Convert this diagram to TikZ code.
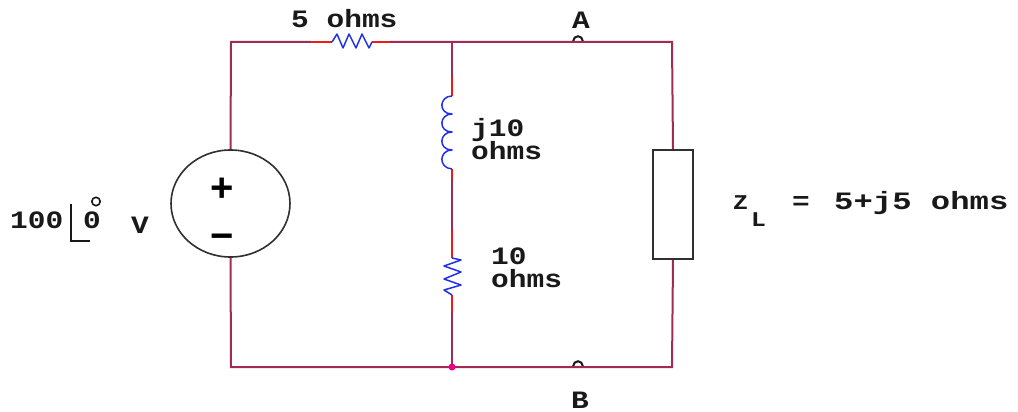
\documentclass[tikz,border=0pt]{standalone}
\usepackage{fontspec}
\usetikzlibrary{shapes.geometric}
\newfontfamily\cktfont[FakeStretch=1.18]{Liberation Mono Bold}
\newfontfamily\cktwide[FakeStretch=1.29]{Liberation Mono Bold}
\newfontfamily\signfont{Liberation Sans Bold}
\definecolor{wirecol}{HTML}{A32A55}
\definecolor{redcol}{HTML}{F01818}
\definecolor{compcol}{HTML}{2030E8}
\definecolor{darkcol}{HTML}{303030}
\tikzset{
  wire/.style={draw=wirecol,line width=2pt},
  lead/.style={draw=redcol,line width=2pt},
  comp/.style={draw=compcol,line width=1.5pt,line join=round},
  body/.style={draw=darkcol,line width=1.6pt,fill=white,inner sep=0pt},
  lbl/.style={anchor=base west,inner sep=0pt,font=\cktfont\fontsize{25}{25}\selectfont,text=black!90},
  widelbl/.style={lbl,font=\cktwide\fontsize{25}{25}\selectfont},
  small/.style={lbl,font=\cktfont\fontsize{21}{21}\selectfont},
  sign/.style={inner sep=0pt,text=black,font=\signfont\fontsize{40}{40}\selectfont},
  term/.style={circle,draw=black!90,line width=2pt,fill=white,minimum size=9.5pt,inner sep=0pt}
}
\begin{document}
\begin{tikzpicture}[x=1pt,y=-1pt]
\useasboundingbox (0,0) rectangle (1018,412);
% corners and junctions
\coordinate (tl) at (231,42);
\coordinate (tm) at (452,42);
\coordinate (tr) at (672,42);
\coordinate (bl) at (231,367);
\coordinate (bm) at (452,367);
\coordinate (br) at (672,367);
\coordinate (rA) at (332,42);
\coordinate (rB) at (372,42);
\coordinate (lA) at (452,96);
\coordinate (lB) at (452,169);
\coordinate (zA) at (452,258);
\coordinate (zB) at (452,295);
\coordinate (ra) at (311,42);
\coordinate (rb) at (390,42);
\coordinate (la) at (452,77);
\coordinate (lb) at (452,230);
\coordinate (zb) at (452,312);
% terminals: only the half above the wire shows
\begin{scope}
\clip (560,20) rectangle (600,42);
\node[term] (ta) at (578,41) {};
\end{scope}
\begin{scope}
\clip (560,345) rectangle (600,367);
\node[term] (tb) at (578,366) {};
\end{scope}
% source and load
\node[ellipse,body,minimum width=119pt,minimum height=107pt] (src) at (230.5,203.5) {};
\node[rectangle,body,minimum width=40pt,minimum height=109pt] (load) at (673,204.5) {};
% wires
\draw[wire] (src.north) -- (tl) -- (ra);
\draw[wire] (rb) -- (tr) -- (load.north);
\draw[wire] (src.south) -- (bl) -- (br) -- (load.south);
\draw[wire] (tm) -- (la);
\draw[wire] (zb) -- (bm);
\draw[wire] (lb) -- (lB);
% red leads
\draw[lead] (ra) -- (rA);
\draw[lead] (rB) -- (rb);
\draw[lead] (la) -- (lA);
\draw[lead] (lB) -- (452,179);
\draw[lead] (lb) -- (zA);
\draw[lead] (zB) -- (zb);
% series resistor
\draw[comp] (rA) -- ++(5,-8) -- ++(6,14) -- ++(6,-14) -- ++(7,14) -- ++(6,-14) -- ++(7,14) -- (rB);
% inductor
\draw[comp] (lA) .. controls (439,96) and (438,114) .. (452,114)
  .. controls (439,114) and (438,132) .. (452,132)
  .. controls (439,132) and (438,150) .. (452,150)
  .. controls (439,150) and (438,168) .. (lB);
% shunt resistor
\draw[comp] (zA) -- (461,260) -- (444,266) -- (461,272) -- (444,279) -- (461,285) -- (444,290) -- (zB);
% junction
\fill[magenta] (bm) circle (3.5pt);
% labels
\node[lbl] (l5) at (291,28) {5\ ohms};
\node[lbl] (lA2) at (572,29) {A};
\node[lbl] (lB2) at (571,408) {B};
\node[lbl] (lj) at (471,136) {j10};
\node[lbl] (ljo) at (471,159) {ohms};
\node[lbl] (l10) at (491,264) {10};
\node[lbl] (l10o) at (491,287) {ohms};
\node[small] (z) at (733,209) {Z};
\node[small] (zl) at (751,226) {L};
\node[lbl] (eq) at (792,209) {=};
\node[widelbl] (zv) at (834,209) {5+j5\ ohms};
\node[lbl] (v100) at (10,228) {100};
\node[lbl] (v0) at (83,228) {0};
\node[lbl] (vv) at (131,233) {V};
\draw[black!90,line width=1.2pt] (71,204) -- (71,241) -- (90,241);
\draw[black!90,line width=1.6pt] (96,201.5) circle (4.2pt);
\node[sign] (plus) at (222,190) {+};
\node[sign] (minus) at (222,242) {\char"2212};
\end{tikzpicture}
\end{document}
